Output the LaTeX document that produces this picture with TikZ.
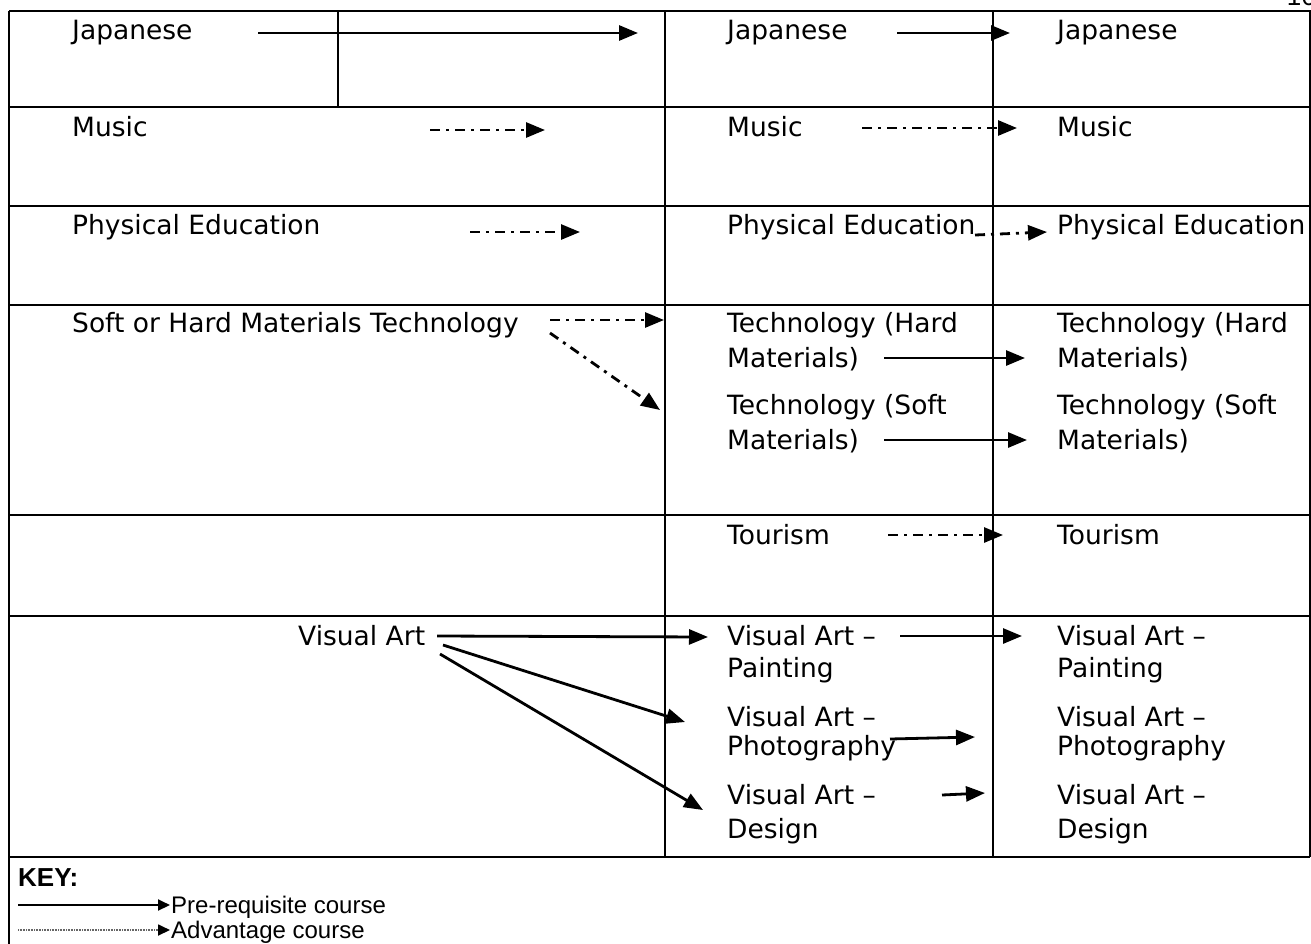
\documentclass[tikz,border=0pt]{standalone}
\usepackage{fontspec}
\setmainfont{DejaVu Sans}
\newfontfamily\arialfont{Liberation Sans}
\usetikzlibrary{arrows.meta}
\begin{document}
\begin{tikzpicture}[x=1pt,y=-1pt]
\tikzset{
 gridline/.style={line width=2.8pt},
 txt/.style={anchor=base west, inner sep=0pt, font=\fontsize{26.5}{31}\selectfont},
 keytxt/.style={anchor=base west, inner sep=0pt, font=\arialfont\fontsize{24}{28}\selectfont},
 prereq/.style={line width=2.8pt, -{Triangle[length=19pt,width=15pt]}},
 advan/.style={prereq, dash pattern=on 10pt off 6pt on 3pt off 6pt},
}
\useasboundingbox (0,0) rectangle (1311,943);
\fill[white] (0,0) rectangle (1311,943);
% page number (cut off at the top edge, as in the reference)
\node[anchor=base east, inner sep=0pt, font=\arialfont\fontsize{26}{30}\selectfont] (pg) at (1316,5) {16};
% grid
\draw[gridline] (9,11) -- (1314,11);
\foreach \yy in {107,206,305,515,616,857} \draw[gridline] (9,\yy) -- (1310,\yy);
\draw[gridline] (9,11) -- (9,945);
\draw[gridline] (338,11) -- (338,107);
\draw[gridline] (665,11) -- (665,857);
\draw[gridline] (993,11) -- (993,857);
\draw[gridline] (1310,11) -- (1310,857);
% left column
\node[txt] (lj) at (72,39) {Japanese};
\node[txt] (lm) at (72,136) {Music};
\node[txt] (lp) at (72,234) {Physical Education};
\node[txt] (ls) at (72,332) {Soft or Hard Materials Technology};
\node[txt] (lv) at (298,645) {Visual Art};
% middle column
\node[txt] (mj) at (727,39) {Japanese};
\node[txt] (mm) at (727,136) {Music};
\node[txt] (mp) at (727,234) {Physical Education};
\node[txt] (mh1) at (727,332) {Technology (Hard};
\node[txt] (mh2) at (727,367) {Materials)};
\node[txt] (ms1) at (727,414) {Technology (Soft};
\node[txt] (ms2) at (727,449) {Materials)};
\node[txt] (mt) at (727,544) {Tourism};
\node[txt] (mva1) at (727,645) {Visual Art --};
\node[txt] (mva2) at (727,677) {Painting};
\node[txt] (mvb1) at (727,726) {Visual Art --};
\node[txt] (mvb2) at (727,755) {Photography};
\node[txt] (mvc1) at (727,804) {Visual Art --};
\node[txt] (mvc2) at (727,838) {Design};
% right column
\node[txt] (rj) at (1057,39) {Japanese};
\node[txt] (rm) at (1057,136) {Music};
\node[txt] (rp) at (1057,234) {Physical Education};
\node[txt] (rh1) at (1057,332) {Technology (Hard};
\node[txt] (rh2) at (1057,367) {Materials)};
\node[txt] (rs1) at (1057,414) {Technology (Soft};
\node[txt] (rs2) at (1057,449) {Materials)};
\node[txt] (rt) at (1057,544) {Tourism};
\node[txt] (rva1) at (1057,645) {Visual Art --};
\node[txt] (rva2) at (1057,677) {Painting};
\node[txt] (rvb1) at (1057,726) {Visual Art --};
\node[txt] (rvb2) at (1057,755) {Photography};
\node[txt] (rvc1) at (1057,804) {Visual Art --};
\node[txt] (rvc2) at (1057,838) {Design};
% arrow end points
\coordinate (j1s) at (258,33);  \coordinate (j1e) at (638,33);
\coordinate (j2s) at (897,33);  \coordinate (j2e) at (1010,33);
\coordinate (m1s) at (430,130); \coordinate (m1e) at (545,130);
\coordinate (m2s) at (862,128); \coordinate (m2e) at (1017,128);
\coordinate (p1s) at (470,232); \coordinate (p1e) at (580,232);
\coordinate (p2s) at (975,235); \coordinate (p2e) at (1047,232);
\coordinate (s1s) at (550,320); \coordinate (s1e) at (664,320);
\coordinate (s2s) at (550,333); \coordinate (s2e) at (660,410);
\coordinate (h1s) at (884,358); \coordinate (h1e) at (1025,358);
\coordinate (h2s) at (884,440); \coordinate (h2e) at (1027,440);
\coordinate (t1s) at (888,535); \coordinate (t1e) at (1003,535);
\coordinate (v1s) at (437,636); \coordinate (v1e) at (708,637);
\coordinate (v2s) at (443,645); \coordinate (v2e) at (685,722);
\coordinate (v3s) at (440,654); \coordinate (v3e) at (703,810);
\coordinate (w1s) at (900,636); \coordinate (w1e) at (1022,636);
\coordinate (w2s) at (890,739); \coordinate (w2e) at (975,737);
\coordinate (w3s) at (942,795); \coordinate (w3e) at (985,793);
% arrows
\draw[prereq] (j1s) -- (j1e);
\draw[prereq] (j2s) -- (j2e);
\draw[advan] (m1s) -- (m1e);
\draw[advan] (m2s) -- (m2e);
\draw[advan] (p1s) -- (p1e);
\draw[advan] (p2s) -- (p2e);
\draw[advan] (s1s) -- (s1e);
\draw[advan] (s2s) -- (s2e);
\draw[prereq] (h1s) -- (h1e);
\draw[prereq] (h2s) -- (h2e);
\draw[advan] (t1s) -- (t1e);
\draw[prereq] (v1s) -- (v1e);
\draw[prereq] (v2s) -- (v2e);
\draw[prereq] (v3s) -- (v3e);
\draw[prereq] (w1s) -- (w1e);
\draw[prereq] (w2s) -- (w2e);
\draw[prereq] (w3s) -- (w3e);
% key
\node[anchor=base west, inner sep=0pt, font=\arialfont\bfseries\fontsize{26}{30}\selectfont] (key) at (18,886) {KEY:};
\coordinate (k1s) at (18,905); \coordinate (k1e) at (170,905);
\coordinate (k2s) at (18,930); \coordinate (k2e) at (170,930);
\draw[line width=2pt, -{Triangle[length=12pt,width=11pt]}] (k1s) -- (k1e);
\draw[line width=1.8pt, black!60, dash pattern=on 1pt off 0.6pt, -{Triangle[length=12pt,width=11pt,fill=black,color=black]}] (k2s) -- (k2e);
\node[keytxt] (kpre) at (171,913) {Pre-requisite course};
\node[keytxt] (kadv) at (171,938) {Advantage course};
\end{tikzpicture}
\end{document}
